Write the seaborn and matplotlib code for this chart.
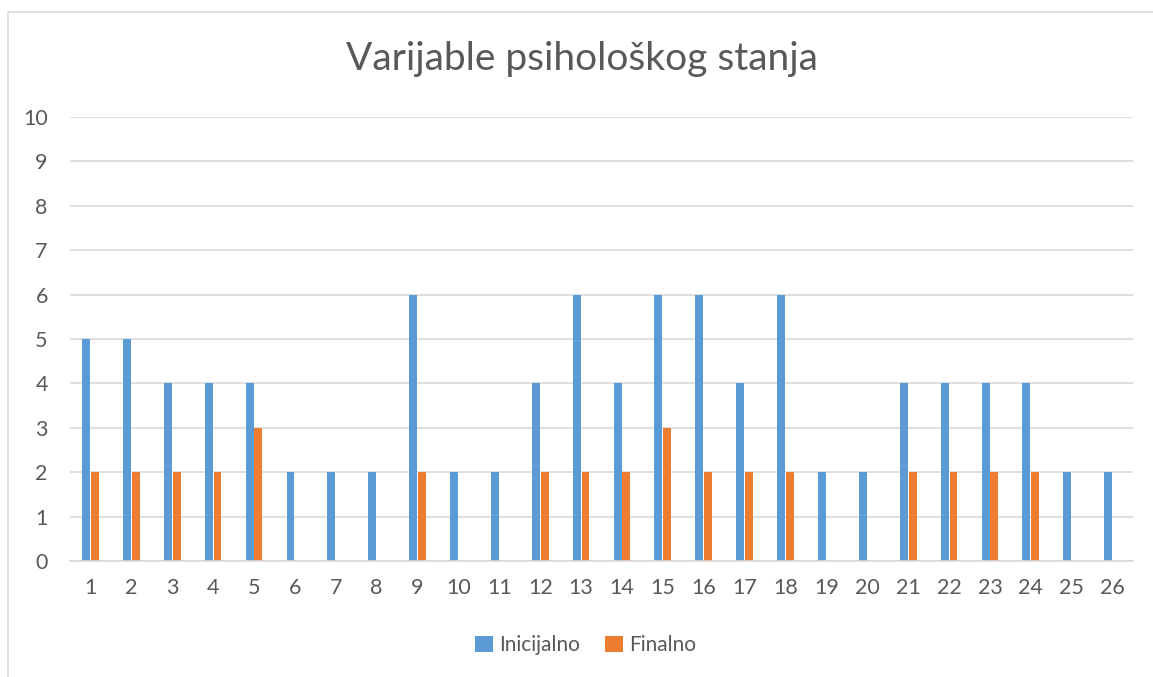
import matplotlib
matplotlib.use("Agg")
import matplotlib.pyplot as plt
import seaborn as sns
import pandas as pd
from matplotlib.patches import Rectangle

categories = [str(i) for i in range(1, 27)]
inicijalno = [5, 5, 4, 4, 4, 2, 2, 2, 6, 2, 2, 4, 6, 4, 6, 6, 4, 6, 2, 2, 4, 4, 4, 4, 2, 2]
finalno = [2, 2, 2, 2, 3, 0, 0, 0, 2, 0, 0, 2, 2, 2, 3, 2, 2, 2, 0, 0, 2, 2, 2, 2, 0, 0]
series_names = ["Inicijalno", "Finalno"]
yticks = list(range(0, 11))

df = pd.DataFrame({
    "cat": categories * 2,
    "val": inicijalno + finalno,
    "series": [series_names[0]] * len(categories) + [series_names[1]] * len(categories),
})

sns.set_theme(style="white")
plt.rcParams["font.family"] = ["Lato", "DejaVu Sans"]
text_color = "#595959"

fig = plt.figure(figsize=(11.53, 6.77), dpi=100)
ax = fig.add_axes([0.0607, 0.1713, 0.922, 0.6559])

sns.barplot(data=df, x="cat", y="val", hue="series", order=categories,
            hue_order=series_names, palette=["#5B9BD5", "#ED7D31"], saturation=1,
            width=0.43, gap=0.1, linewidth=0, ax=ax, legend=True)

ax.set_ylim(0, 10)
ax.set_xlim(-0.5, 25.5)
ax.set_yticks(yticks)
ax.set_yticklabels([str(t) for t in yticks])
ax.yaxis.grid(True, color="#D9D9D9", linewidth=1.2)
ax.set_axisbelow(True)
for s in ["top", "right", "left"]:
    ax.spines[s].set_visible(False)
ax.spines["bottom"].set_color("#D9D9D9")
ax.spines["bottom"].set_linewidth(1.2)
ax.tick_params(axis="both", length=0, labelsize=15.5, colors=text_color, pad=12)
ax.tick_params(axis="y", pad=16)
ax.set_xlabel("")
ax.set_ylabel("")

fig.suptitle("Varijable psihološkog stanja", x=0.505, y=0.94, fontsize=28, color=text_color)

handles, labels = ax.get_legend_handles_labels()
ax.legend_.remove()
fig.legend(handles, labels, loc="center", bbox_to_anchor=(0.508, 0.047), ncol=2,
           frameon=False, fontsize=15, labelcolor=text_color, handlelength=0.85,
           handleheight=0.85, handletextpad=0.3, columnspacing=1.2)

fig.patches.append(Rectangle((8 / 1153, -0.01), 1.2, 1 - 12 / 677 + 0.01,
                             transform=fig.transFigure, fill=False,
                             edgecolor="#D9D9D9", linewidth=1.2))

fig.savefig("out.png", dpi=100)
